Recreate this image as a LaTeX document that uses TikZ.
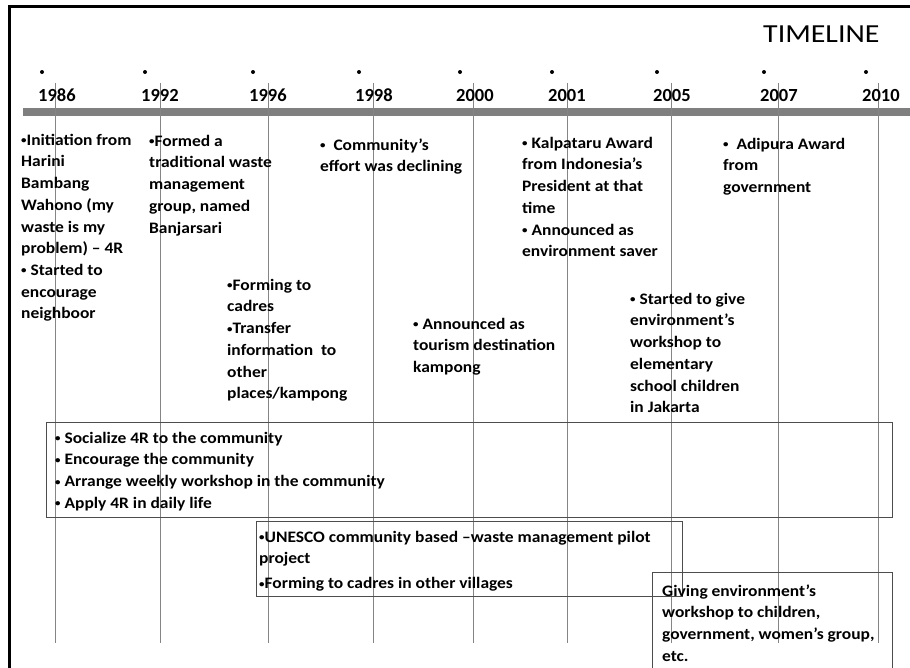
\documentclass[tikz,border=0pt]{standalone}
\usepackage{fontspec}
\setmainfont{Carlito}
\newfontfamily\notefont{Carlito}[FakeStretch=1.09]
\newfontfamily\titlefont{Carlito}[FakeStretch=1.15]
\usetikzlibrary{positioning}
\definecolor{linegray}{HTML}{858585}
\definecolor{boxgray}{HTML}{4D4D4D}
\definecolor{bargray}{HTML}{7F7F7F}
\tikzstyle{dot} = [circle,fill=black,inner sep=0pt,minimum size=4pt]
\tikzstyle{year} = [anchor=base west,inner sep=0pt,font=\bfseries\fontsize{18.5}{22}\selectfont]
\tikzstyle{note} = [anchor=north west,inner sep=0pt,align=left,font=\notefont\bfseries\fontsize{16}{21.7}\selectfont]
\tikzstyle{yearline} = [draw=linegray, line width=1pt]
\tikzstyle{box} = [draw=boxgray, line width=0.9pt]
\newcommand{\fl}{\rule{0pt}{12pt}}
\newcommand{\bul}{\raisebox{1.6pt}{\fontsize{10}{10}\selectfont•}}

\begin{document}
\begin{tikzpicture}[x=1pt,y=-1pt]
    \useasboundingbox (0,0) rectangle (910,667);
    \clip (0,0) rectangle (910,667);
    % frame and bar
    \draw [line width=3pt] (9,670) -- (9,6) -- (912,6);
    \fill [bargray] (23,108) rectangle (912,116);
    \node [anchor=base west,inner sep=0pt,font=\titlefont\fontsize{26}{30}\selectfont] (title) at (763,42) {TIMELINE};
    % years
    \foreach \yr/\dx/\lx in {1986/42/55, 1992/145/160, 1996/253/268, 1998/359/373, 2000/460/473, 2001/552/567, 2005/657/671, 2007/764/778, 2010/866/878} {
      \coordinate (top\yr) at (\lx,83);
      \coordinate (bot\yr) at (\lx,643);
      \draw [yearline] (top\yr) -- (bot\yr);
      \node [dot] (d\yr) at (\dx,72) {};
      \node [year] (y\yr) at (\dx-4,101) {\yr};
    }
    % events
    \node [note] (n1986) at (21,133) {\fl\bul Initiation from\\Harini\\Bambang\\Wahono (my\\waste is my\\problem) – 4R\\\bul\ Started to\\encourage\\neighboor};
    \node [note] (n1992) at (149,134) {\fl\bul Formed a\\traditional waste\\management\\group, named\\Banjarsari};
    \node [note] (n1996) at (227,278) {\fl\bul Forming to\\cadres\\\bul Transfer\\information\ \ to\\other\\places/kampong};
    \node [note] (n1998) at (320,138) {\fl\bul\ \ Community’s\\effort was declining};
    \node [note] (n2000) at (413,317) {\fl\bul\ Announced as\\tourism destination\\kampong};
    \node [note] (n2001) at (522,136) {\fl\bul\ Kalpataru Award\\from Indonesia’s\\President at that\\time\\\bul\ Announced as\\environment saver};
    \node [note] (n2005) at (630,292) {\fl\bul\ Started to give\\environment’s\\workshop to\\elementary\\school children\\in Jakarta};
    \node [note] (n2007) at (723,137) {\fl\bul\ \ Adipura Award\\from\\government};
    % periods
    \draw [box] (46,422) rectangle (892,517);
    \node [note] (p1) at (55,431) {\fl\bul\ Socialize 4R to the community\\\bul\ Encourage the community\\\bul\ Arrange weekly workshop in the community\\\bul\ Apply 4R in daily life};
    \draw [box] (256,521) rectangle (682,596);
    \node [note] (p2) at (259,530) {\fl\bul UNESCO community based –waste management pilot\\project\\[3pt]\bul Forming to cadres in other villages};
    \draw [box] (652,680) -- (652,572) -- (892,572) -- (892,680);
    \node [note] (p3) at (662,584) {\fl Giving environment’s\\workshop to children,\\government, women’s group,\\etc.};
\end{tikzpicture}
\end{document}
